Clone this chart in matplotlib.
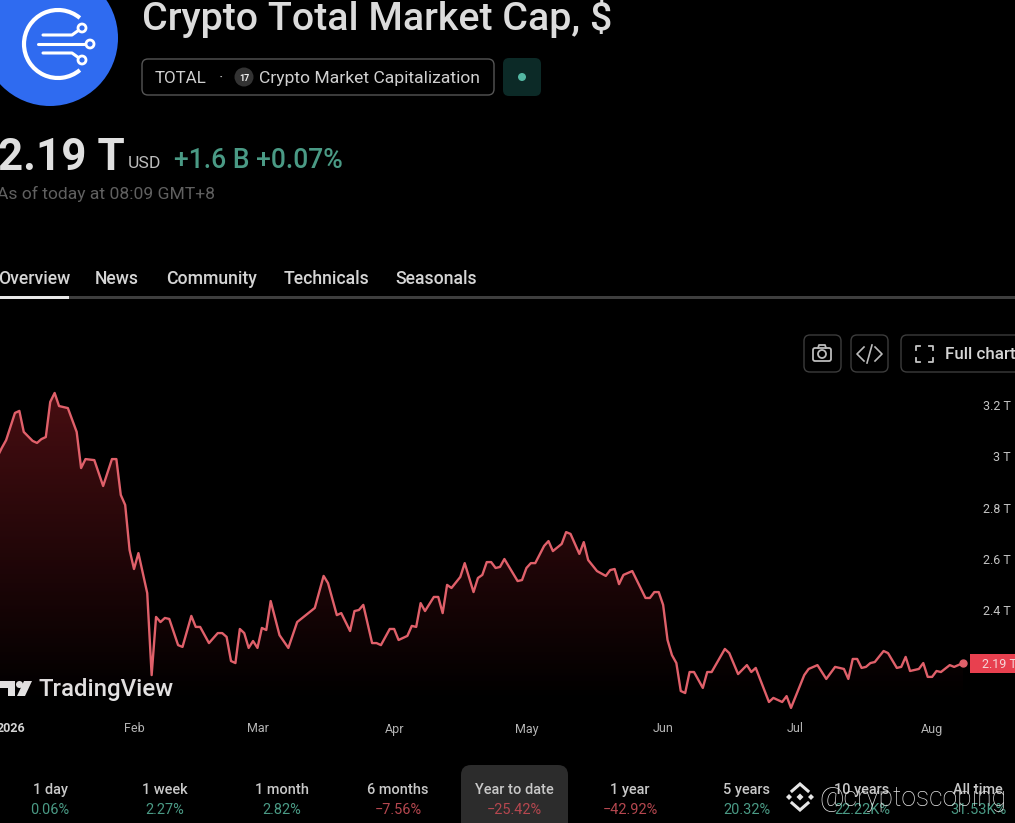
import numpy as np
import matplotlib
matplotlib.use("Agg")
import matplotlib.pyplot as plt
from matplotlib.patches import Circle, FancyBboxPatch, Polygon, Arc, Rectangle

plt.rcParams['font.family'] = ['Roboto', 'DejaVu Sans']

# ---- data (day index from 1 Jan 2026, value in trillions USD) ----
days = [0,1,2,4,5,6,8,9,10,11,12,13,14,16,18,19,20,22,24,26,27,28,29,30,31,32,34,35,36,37,38,39,41,42,44,45,46,48,50,51,52,53,54,55,56,57,58,59,60,61,62,64,66,68,72,74,75,77,78,
        80,81,82,83,85,86,87,89,90,91,93,94,95,96,97,99,100,101,102,103,105,106,108,109,110,111,112,113,114,115,118,119,120,121,122,124,125,126,128,129,130,132,133,134,136,138,139,140,141,142,144,147,148,149,150,151,152,153,154,155,156,157,158,160,161,162,165,166,168,170,171,172,175,176,178,179,180,183,184,186,188,190,192,193,194,195,196,197,198,199,201,202,204,205,206,207,209,210,211,212,213,214,216,217,219]
values = [2.997,3.032,3.063,3.169,3.177,3.095,3.06,3.052,3.067,3.075,3.212,3.247,3.196,3.188,3.095,2.954,2.989,2.985,2.884,2.989,2.989,2.849,2.81,2.634,2.56,2.622,2.466,2.146,2.373,2.353,2.369,2.365,2.263,2.256,2.377,2.334,2.334,2.271,2.31,2.31,2.295,2.201,2.193,2.326,2.31,2.252,2.279,2.252,2.33,2.322,2.435,2.302,2.252,2.353,2.408,2.533,2.505,2.38,2.388,
          2.318,2.396,2.4,2.42,2.271,2.271,2.263,2.326,2.326,2.283,2.299,2.338,2.334,2.427,2.396,2.451,2.451,2.388,2.498,2.486,2.529,2.583,2.47,2.525,2.537,2.587,2.587,2.564,2.568,2.599,2.513,2.517,2.564,2.583,2.583,2.65,2.669,2.63,2.658,2.704,2.697,2.619,2.665,2.595,2.552,2.533,2.556,2.56,2.501,2.537,2.552,2.447,2.447,2.47,2.47,2.42,2.283,2.224,2.193,2.084,2.076,2.158,2.158,2.096,2.158,2.158,2.248,2.232,2.15,2.185,2.158,2.174,2.041,2.057,2.041,2.064,2.018,2.146,2.17,2.185,2.131,2.178,2.17,2.131,2.209,2.209,2.174,2.178,2.193,2.197,2.24,2.232,2.174,2.178,2.217,2.162,2.17,2.193,2.139,2.139,2.162,2.158,2.185,2.178,2.193]
month_ticks = [3, 31, 59, 90, 120, 151, 181, 212]
month_labels = ['2026', 'Feb', 'Mar', 'Apr', 'May', 'Jun', 'Jul', 'Aug']
y_ticks = [2.4, 2.6, 2.8, 3.0, 3.2]
y_labels = ['2.4 T', '2.6 T', '2.8 T', '3 T', '3.2 T']
last_label = '2.19 T'
title = 'Crypto Total Market Cap, $'
symbol = 'TOTAL'
source = 'Crypto Market Capitalization'
price = '2.19 T'
change = '+1.6 B +0.07%'
as_of = 'As of today at 08:09 GMT+8'
tabs = ['Overview', 'News', 'Community', 'Technicals', 'Seasonals']
periods = ['1 day', '1 week', '1 month', '6 months', 'Year to date', '1 year', '5 years', '10 years', 'All time']
period_values = ['0.06%', '2.27%', '2.82%', '\u22127.56%', '\u221225.42%', '\u221242.92%', '20.32%', '22.22K%', '31.53K%']

W, H = 1015, 823
GREEN = '#4a9a85'
RED = '#b5474f'
fig = plt.figure(figsize=(W/100, H/100), dpi=100, facecolor='black')

# overlay for page furniture, in pixel coordinates
page = fig.add_axes([0, 0, 1, 1], zorder=1)
page.set_xlim(0, W); page.set_ylim(H, 0); page.axis('off')

def T(x, y, s, px, color='#d8d8d8', ha='left', weight='normal', z=5, **kw):
    return page.text(x, y, s, fontsize=px*0.72, color=color, ha=ha, va='baseline',
                     weight=weight, zorder=z, **kw)

def box(x0, y0, x1, y1, r, fc='none', ec='#3c3c3c', lw=1.0, z=2):
    page.add_patch(FancyBboxPatch((x0+r, y0+r), x1-x0-2*r, y1-y0-2*r,
                                  boxstyle=f'round,pad={r},rounding_size={r}',
                                  fc=fc, ec=ec, lw=lw, zorder=z))

# logo
page.add_patch(Circle((50, 38), 68, fc='#2f6bf0', ec='none', zorder=2))
page.add_patch(Arc((58, 44), 68, 68, theta1=50, theta2=310, ec='white', lw=3.0, zorder=3))
page.plot([43, 72, 79], [35, 35, 30], color='white', lw=2.2, zorder=3, solid_capstyle='round')
page.plot([38, 86], [44, 44], color='white', lw=2.2, zorder=3, solid_capstyle='round')
page.plot([43, 72, 79], [53, 53, 58], color='white', lw=2.2, zorder=3, solid_capstyle='round')
for cx, cy in [(82, 28), (90, 44), (82, 60)]:
    page.add_patch(Circle((cx, cy), 4, fc='#2f6bf0', ec='white', lw=2, zorder=4))

# heading
T(142, 30, title, 39.4, '#dcdcdc', weight='medium')
box(142, 59, 494, 95, 6, ec='#555555')
T(155, 83, symbol, 17, '#d0d0d0')
T(219, 83, '\u00b7', 17, '#bbbbbb')
page.add_patch(Circle((244, 77), 9.5, fc='#333333', ec='none', zorder=3))
T(244, 80.5, '17', 9, '#eeeeee', ha='center', weight='bold')
T(259, 83, source, 17.5, '#d0d0d0')
box(503, 58, 541, 96, 6, fc='#0c2a27', ec='none')
page.add_patch(Circle((522, 77), 4, fc='#54b8a3', ec='none', zorder=3))

T(-2, 170, price, 44, '#e0e0e0', weight='bold')
T(128, 168, 'USD', 17.5, '#bdbdbd')
T(174, 168, change, 26.5, GREEN, weight='medium')
T(-3, 199, as_of, 17.5, '#606060')

for s, x in zip(tabs, [-2, 95, 166, 284, 395]):
    T(x, 284, s, 17.6, '#d5d5d5', weight='medium')
page.add_patch(Rectangle((0, 295.5), W, 3, fc='#3e3e3e', ec='none', zorder=2))
page.add_patch(Rectangle((0, 295.5), 69, 3, fc='#e8e8e8', ec='none', zorder=3))

# chart buttons
box(804, 335, 841, 372, 6)
box(851, 335, 888, 372, 6)
box(901, 335, 1030, 372, 6)
page.add_patch(FancyBboxPatch((813, 348), 18, 13, boxstyle='round,pad=0,rounding_size=2', fc='none', ec='#bbbbbb', lw=1.3, zorder=3))
page.add_patch(Circle((822, 354), 4, fc='none', ec='#bbbbbb', lw=1.3, zorder=3))
page.plot([818, 819, 825, 826], [348, 345, 345, 348], color='#bbbbbb', lw=1.3, zorder=3)
page.plot([864, 857, 864], [347, 354, 361], color='#bbbbbb', lw=1.2, zorder=3)
page.plot([875, 882, 875], [347, 354, 361], color='#bbbbbb', lw=1.2, zorder=3)
page.plot([867, 872], [363, 345], color='#bbbbbb', lw=1.2, zorder=3)
for sx, sy in [(-1, -1), (1, -1), (-1, 1), (1, 1)]:
    cx, cy = 925 + sx*8.5, 353.5 + sy*8
    page.plot([cx - sx*4, cx, cx], [cy, cy, cy - sy*4], color='#c4c4c4', lw=1.3, zorder=3)
T(945, 359, 'Full chart', 17, '#d5d5d5', clip_on=True, weight='medium')

# performance row
box(461, 765, 568, 840, 10, fc='#2c2c2c', ec='none')
for s, v, x in zip(periods, period_values, [50, 165, 282, 398, 514, 630, 747, 862, 978]):
    T(x, 794, s, 14.5, '#c8c8c8', ha='center', weight='medium')
    T(x, 814, v, 14.5, RED if v.startswith('\u2212') else GREEN, ha='center')

# watermark
T(819, 806, '@cryptoscoping', 26.5, '#e4e4e4', z=8, weight='light')
ICON = '#e6e6e6'
for cx, cy, r in [(789, 797, 3), (811, 797, 3), (800, 797, 3.5)]:
    page.add_patch(Polygon([(cx, cy-r), (cx+r, cy), (cx, cy+r), (cx-r, cy)], fc=ICON, ec='none', zorder=8))
for s in (-1, 1):
    page.plot([792, 800, 808], [797 + s*6, 797 + s*13, 797 + s*6], color=ICON, lw=2.2, zorder=8, solid_joinstyle='miter')

# price chart
top_px, bot_px = 380, 710
ax = fig.add_axes([0, 1 - bot_px/H, 1, (bot_px - top_px)/H], zorder=2)
ax.patch.set_alpha(0)
XLIM = (0.61, 230.8)
YLIM = (2.0098, 3.2976)
for sp in ax.spines.values():
    sp.set_visible(False)

poly = ax.fill_between(days, values, 1.9, color='none')
grad = np.zeros((256, 2, 4))
grad[..., 0] = 0.36; grad[..., 1] = 0.07; grad[..., 2] = 0.09
grad[..., 3] = np.linspace(0.8, 0.0, 256)[:, None]
im = ax.imshow(grad, extent=[XLIM[0], XLIM[1], 2.05, 3.27], aspect='auto', origin='upper', zorder=1, interpolation='bilinear')
im.set_clip_path(poly.get_paths()[0], transform=ax.transData)
ax.set_xlim(*XLIM)
ax.set_ylim(*YLIM)

ax.plot(days, values, color='#e0606a', lw=1.7, zorder=3, solid_joinstyle='round')
ax.plot(days[-1], values[-1], 'o', color='#e0606a', ms=5, zorder=4, clip_on=False)

ax.set_xticks(month_ticks, month_labels)
ax.tick_params(axis='x', length=0, pad=9, labelsize=9, labelcolor='#b4b4b4')
ax.get_xticklabels()[0].set_fontweight('bold')
ax.get_xticklabels()[0].set_color('#d4d4d4')
ax.yaxis.tick_right()
ax.set_yticks(y_ticks, y_labels)
ax.tick_params(axis='y', length=0, pad=-3, labelsize=9, labelcolor='#c4c4c4')
for lab in ax.get_yticklabels():
    lab.set_ha('right')

# last value tag and TradingView mark
page.add_patch(Rectangle((970, 654), 46, 19, fc='#e8404f', ec='none', zorder=6))
T(982, 668, last_label, 12.5, '#f4d6d8', z=7)
T(39, 696, 'TradingView', 24, '#e6e6e6', weight='medium', z=6)
page.add_patch(Polygon([(0, 681), (15, 681), (15, 696), (8, 696), (8, 688), (0, 688)], fc='#e6e6e6', ec='none', zorder=6))
page.add_patch(Circle((19.5, 684.5), 3.5, fc='#e6e6e6', ec='none', zorder=6))
page.add_patch(Polygon([(24, 681), (32, 681), (25, 696), (17, 696)], fc='#e6e6e6', ec='none', zorder=6))

fig.savefig('out.png', dpi=100, facecolor='black')
